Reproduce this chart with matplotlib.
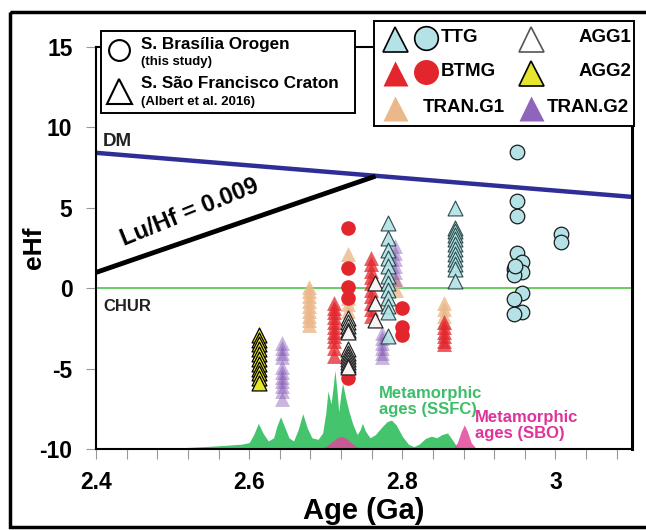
import matplotlib.pyplot as plt
from matplotlib.patches import Rectangle
from matplotlib.ticker import MultipleLocator

plt.rcParams['font.family'] = ['Liberation Sans', 'DejaVu Sans']
plt.rcParams['font.weight'] = 'bold'
plt.rcParams['axes.labelweight'] = 'bold'
plt.rcParams['axes.unicode_minus'] = False

# ---- data (age in Ga, eHf) ----
ttg_tri_age = [2.782] * 12 + [2.869] * 12
ttg_tri_ehf = [4.05, 3.1, 2.4, 1.9, 1.4, 0.75, 0.35, -0.1, -0.6, -1.1, -1.5, -3.0,
               5.0, 3.77, 3.56, 3.29, 3.04, 2.73, 2.42, 2.1, 1.8, 1.48, 1.17, 0.44]
ttg_cir_age = [2.950, 2.950, 2.950, 2.950, 2.956, 2.946, 2.956, 2.946, 2.947,
               2.956, 2.946, 2.956, 2.946, 3.007, 3.007]
ttg_cir_ehf = [8.5, 5.45, 4.5, 2.2, 1.6, 1.2, 1.0, 0.8, 1.4,
               -0.27, -0.7, -1.5, -1.6, 3.4, 2.85]

btmg_tri_age = [2.711] * 11 + [2.759] * 10 + [2.854] * 6
btmg_tri_ehf = [-0.9, -1.2, -1.5, -1.8, -2.1, -2.4, -2.7, -3.0, -3.3, -3.7, -4.2,
                1.9, 1.5, 1.1, 0.7, 0.3, -0.1, -0.5, -0.9, -1.3, -1.7,
                -2.1, -2.4, -2.7, -3.0, -3.3, -3.5]
btmg_cir_age = [2.729] * 5 + [2.800] * 3
btmg_cir_ehf = [3.75, 1.25, 0.05, -0.6, -5.6, -1.2, -2.4, -2.9]

agg1_age = [2.729] * 12 + [2.764] * 3
agg1_ehf = [-1.85, -2.1, -2.35, -2.6, -2.75, -3.8, -4.0, -4.2, -4.4, -4.6, -4.8, -4.9,
            0.3, -0.9, -2.0]

agg2_age = [2.613] * 11
agg2_ehf = [-2.9, -3.2, -3.5, -3.8, -4.1, -4.4, -4.7, -5.0, -5.3, -5.6, -5.9]

tran1_age = [2.678] * 9 + [2.729] * 4 + [2.792] * 2 + [2.854] * 4
tran1_ehf = [0.1, -0.2, -0.5, -0.8, -1.1, -1.4, -1.7, -2.0, -2.3,
             2.1, -0.6, -1.0, -1.4,
             0.5, -0.1,
             -0.9, -1.3, -1.7, -2.1]

tran2_age = [2.643] * 11 + [2.791] * 6 + [2.774] * 6
tran2_ehf = [-3.4, -3.7, -4.0, -4.3, -4.9, -5.2, -5.5, -5.8, -6.1, -6.4, -6.9,
             2.6, 2.2, 1.8, 1.4, 1.0, 0.6,
             -2.8, -3.1, -3.4, -3.7, -4.0, -4.3]

# metamorphic age probability curves (drawn on the eHf scale, baseline -10)
ssfc_age = [2.47, 2.52, 2.56, 2.59, 2.600, 2.606, 2.612, 2.618, 2.625, 2.632, 2.636,
            2.641, 2.647, 2.652, 2.658, 2.664, 2.670, 2.676, 2.682, 2.690, 2.696,
            2.700, 2.703, 2.707, 2.710, 2.712, 2.715, 2.717, 2.720, 2.722, 2.726,
            2.730, 2.735, 2.741, 2.745, 2.748, 2.752, 2.758, 2.765, 2.772, 2.780,
            2.786, 2.792, 2.800, 2.808, 2.815, 2.822, 2.830, 2.838, 2.845, 2.852,
            2.859, 2.865, 2.872, 2.878]
ssfc_val = [-10.0, -9.9, -9.8, -9.7, -9.6, -9.1, -8.4, -9.0, -9.5, -9.3, -8.6,
            -8.0, -8.7, -9.3, -9.5, -8.8, -7.8, -8.7, -9.3, -9.4, -9.0,
            -7.8, -6.4, -7.2, -6.0, -5.1, -6.5, -7.7, -6.5, -5.9, -6.8,
            -7.6, -8.4, -9.1, -8.8, -8.4, -8.9, -9.3, -9.1, -8.7, -8.3,
            -8.2, -8.5, -9.2, -9.7, -9.85, -9.7, -9.35, -9.2, -9.3, -9.1,
            -9.0, -9.4, -9.9, -10.0]
sbo_age = [2.690, 2.700, 2.708, 2.715, 2.720, 2.726, 2.733, 2.740, 2.750,
           2.866, 2.872, 2.877, 2.881, 2.885, 2.890, 2.897]
sbo_val = [-10.0, -9.85, -9.55, -9.3, -9.2, -9.3, -9.6, -9.85, -10.0,
           -10.0, -9.6, -8.9, -8.5, -8.9, -9.6, -10.0]

dm_age = [2.4, 3.1]
dm_ehf = [8.42, 5.68]
luhf_age = [2.4, 2.762]
luhf_ehf = [0.98, 6.92]

C_TTG = '#b4e2e6'
C_RED = '#e3262b'
C_YEL = '#e6e62e'
C_TAN = '#eab88a'
C_PUR = '#7a4aae'
C_GREEN = '#45c46e'
C_PINK = '#e0489a'

fig = plt.figure(figsize=(6.46, 5.30), dpi=100)
ax = fig.add_axes([0.1486, 0.1528, 0.8297, 0.7585])
ax.set_xlim(2.4, 3.1)
ax.set_ylim(-10, 15)

ax.fill_between(ssfc_age, -10, ssfc_val, color=C_GREEN, lw=0, zorder=1)
ax.fill_between(sbo_age, -10, sbo_val, color=C_PINK, alpha=0.85, lw=0, zorder=2)

ax.axhline(0, color='#5ac85a', lw=1.3, zorder=2)
ax.plot(dm_age, dm_ehf, color='#2e2e96', lw=3.2, zorder=2)
ax.plot(luhf_age, luhf_ehf, color='black', lw=3.5, zorder=2)

tri = 115
ax.scatter(tran1_age, tran1_ehf, s=tri, marker='^', color=C_TAN, alpha=0.8, lw=0, zorder=3)
ax.scatter(tran2_age, tran2_ehf, s=tri, marker='^', color=C_PUR, alpha=0.4, lw=0, zorder=3)
ax.scatter(btmg_tri_age, btmg_tri_ehf, s=tri, marker='^', color=C_RED, alpha=0.75, lw=0, zorder=4)
ax.scatter(btmg_cir_age, btmg_cir_ehf, s=110, marker='o', color=C_RED, lw=0, zorder=4)
ax.scatter(agg2_age, agg2_ehf, s=tri, marker='^', fc=C_YEL, ec='black', lw=0.9, zorder=5)
ax.scatter(agg1_age, agg1_ehf, s=tri, marker='^', fc='#f8f4f4', ec='#222222', lw=0.9, zorder=5)
ax.scatter(ttg_tri_age, ttg_tri_ehf, s=tri, marker='^', fc=C_TTG, ec='#1a3a3a', lw=0.8, alpha=0.9, zorder=6)
ax.scatter(ttg_cir_age, ttg_cir_ehf, s=110, marker='o', fc=C_TTG, ec='#1a1a1a', lw=0.9, zorder=6)

ax.text(2.409, 9.1, 'DM', fontsize=13.5, color='#222222', va='center')
ax.text(2.409, -1.15, 'CHUR', fontsize=12, color='#222222', va='center')
ax.text(2.522, 4.7, 'Lu/Hf = 0.009', fontsize=17, rotation=22, ha='center', va='center')
ax.text(2.770, -7.05, 'Metamorphic\nages (SSFC)', fontsize=12, color='#3cbe68',
        va='center', linespacing=1.05)
ax.text(2.895, -8.55, 'Metamorphic\nages (SBO)', fontsize=12, color='#e0329a',
        va='center', linespacing=1.05)

ax.xaxis.set_major_locator(MultipleLocator(0.2))
ax.xaxis.set_minor_locator(MultipleLocator(0.04))
ax.yaxis.set_major_locator(MultipleLocator(5))
ax.set_xticks([2.4, 2.6, 2.8, 3.0], ['2.4', '2.6', '2.8', '3'])
ax.tick_params(which='both', direction='out', length=7, width=0.8, color='#999999',
               labelsize=16.5, pad=9)
ax.tick_params(axis='y', pad=10)
for sp in ax.spines.values():
    sp.set_linewidth(1.5)
ax.spines['right'].set_linewidth(2.2)

ax.set_xlabel('Age (Ga)', fontsize=21)
ax.xaxis.set_label_coords(0.5, -0.12)
ax.set_ylabel('eHf', fontsize=19)
ax.yaxis.set_label_coords(-0.094, 0.5)

# ---- overlay in pixel coordinates: legend boxes and outer frame ----
ov = fig.add_axes([0, 0, 1, 1], zorder=5)
ov.set_xlim(0, 646)
ov.set_ylim(530, 0)
ov.axis('off')
ov.add_patch(Rectangle((10, 12), 650, 515, fc='none', ec='black', lw=2.5))

ov.add_patch(Rectangle((101, 31), 254, 82, fc='white', ec='black', lw=1.4))
ov.plot(119, 50, 'o', ms=15, mfc='white', mec='black', mew=1.5)
ov.plot(119, 91, '^', ms=18, mfc='white', mec='black', mew=1.5)
ov.text(141, 44, 'S. Brasília Orogen', fontsize=12.3, va='center')
ov.text(141, 62, '(this study)', fontsize=9.5, va='center')
ov.text(141, 84, 'S. São Francisco Craton', fontsize=12.3, va='center')
ov.text(141, 102, '(Albert et al. 2016)', fontsize=9.5, va='center')

ov.add_patch(Rectangle((374, 21), 260, 105, fc='white', ec='black', lw=1.4))
ov.plot(395, 39, '^', ms=18, mfc=C_TTG, mec='black', mew=1.2)
ov.plot(426, 38, 'o', ms=17, mfc=C_TTG, mec='black', mew=1.2)
ov.text(441, 38, 'TTG', fontsize=13.5, va='center')
ov.plot(531, 39, '^', ms=18, mfc='white', mec='#555555', mew=1.2)
ov.text(631, 38, 'AGG1', fontsize=13.5, va='center', ha='right')
ov.plot(395, 73, '^', ms=18, mfc=C_RED, mec='none')
ov.plot(426, 72, 'o', ms=18, mfc=C_RED, mec='none')
ov.text(441, 72, 'BTMG', fontsize=13.5, va='center')
ov.plot(531, 73, '^', ms=18, mfc=C_YEL, mec='black', mew=1.2)
ov.text(631, 72, 'AGG2', fontsize=13.5, va='center', ha='right')
ov.plot(395, 108, '^', ms=18, mfc=C_TAN, mec='none')
ov.text(423, 107, 'TRAN.G1', fontsize=13.5, va='center')
ov.plot(531, 108, '^', ms=18, mfc=C_PUR, mec='none', alpha=0.85)
ov.text(547, 107, 'TRAN.G2', fontsize=13.5, va='center')

fig.savefig('out.png', dpi=100)
